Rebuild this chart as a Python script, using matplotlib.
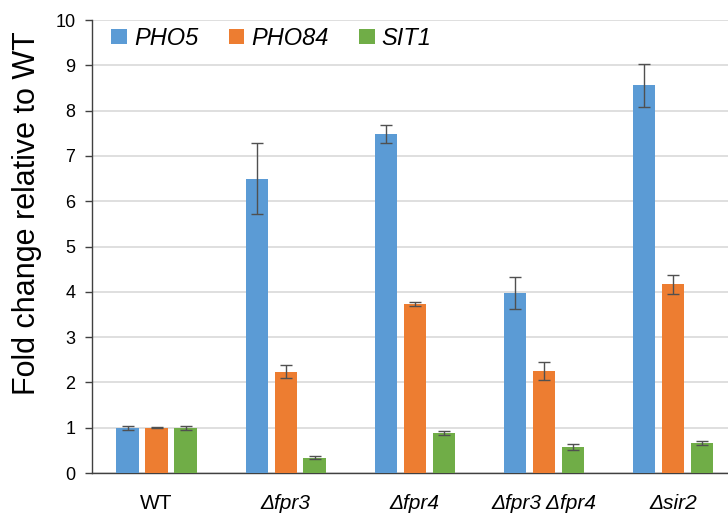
import numpy as np
import matplotlib
matplotlib.use('Agg')
import matplotlib.pyplot as plt

plt.rcParams['font.family'] = ['Liberation Sans', 'DejaVu Sans']

# Strains and measured fold changes (relative to WT)
strains = ['WT', 'Δfpr3', 'Δfpr4', 'Δfpr3 Δfpr4', 'Δsir2']
genes = ['PHO5', 'PHO84', 'SIT1']

pho5 = [1.00, 6.50, 7.48, 3.98, 8.56]
pho84 = [1.00, 2.24, 3.73, 2.26, 4.17]
sit1 = [1.00, 0.34, 0.88, 0.57, 0.66]

pho5_err = [0.045, 0.78, 0.20, 0.35, 0.48]
pho84_err = [0.01, 0.14, 0.05, 0.20, 0.21]
sit1_err = [0.045, 0.03, 0.04, 0.06, 0.04]

colors = ['#5B9BD5', '#ED7D31', '#70AD47']

fig = plt.figure(figsize=(7.28, 5.17), dpi=100)
ax = fig.add_axes([0.1264, 0.0851, 0.887, 0.876])

x = np.arange(len(strains))
width = 0.174
offset = 0.2245

series = [(pho5, pho5_err), (pho84, pho84_err), (sit1, sit1_err)]
for k, (vals, errs) in enumerate(series):
    ax.bar(x + (k - 1) * offset, vals, width, color=colors[k], label=genes[k],
           yerr=errs, capsize=4,
           error_kw=dict(ecolor='#505050', elinewidth=1, capthick=1),
           zorder=3)

ax.set_xlim(-0.5, 4.5)
ax.set_ylim(0, 10)
ax.set_yticks(range(0, 11))
ax.yaxis.grid(True, color='#D9D9D9', linewidth=1.2, zorder=0)
ax.set_axisbelow(True)

ax.set_xticks(x)
ax.set_xticklabels(strains, fontsize=15)
for i, lbl in enumerate(ax.get_xticklabels()):
    if i > 0:
        lbl.set_fontstyle('italic')
ax.tick_params(axis='x', length=0, pad=15)
ax.tick_params(axis='y', labelsize=13, length=5, width=1, color='#404040', pad=7)

for s in ['top', 'right']:
    ax.spines[s].set_visible(False)
for s in ['left', 'bottom']:
    ax.spines[s].set_color('#404040')
    ax.spines[s].set_linewidth(1)

ax.set_ylabel('Fold change relative to WT', fontsize=22)
ax.yaxis.set_label_coords(-0.077, 0.574)

leg = ax.legend(loc='upper left', bbox_to_anchor=(0.03, 0.985), ncol=3,
                frameon=False, prop=dict(size=17, style='italic'),
                handlelength=0.65, handleheight=0.65, handletextpad=0.3,
                columnspacing=1.3, borderaxespad=0, borderpad=0)

fig.savefig('out.png', dpi=100)
